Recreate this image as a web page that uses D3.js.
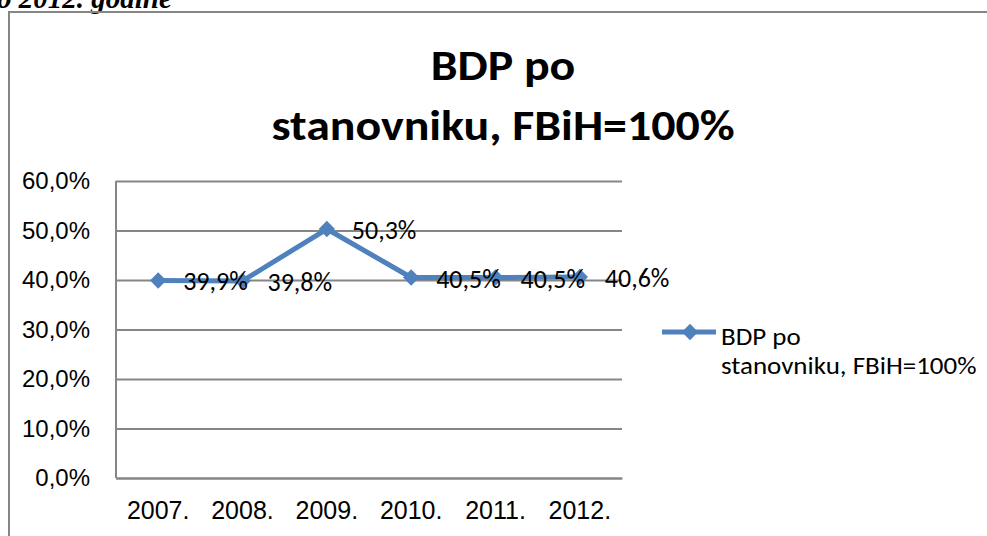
<!DOCTYPE html>
<html>
<head>
<meta charset="utf-8">
<script src="https://cdn.jsdelivr.net/npm/d3@7"></script>
<style>
  body { margin: 0; background: #fff; }
  svg { display: block; font-family: Carlito, Calibri, Lato, sans-serif; }
</style>
</head>
<body>
<svg id="chart" width="987" height="536"></svg>
<script>
// data
const years = ["2007.", "2008.", "2009.", "2010.", "2011.", "2012."];
const values = [0.399, 0.398, 0.503, 0.405, 0.405, 0.406];
const yTicks = [0, 0.1, 0.2, 0.3, 0.4, 0.5, 0.6];
const seriesName = ["BDP po", "stanovniku, FBiH=100%"];
const titleLines = ["BDP po", "stanovniku, FBiH=100%"];

const blue = "#4f81bd", grid = "#868686";
const plot = {left: 116, right: 622, top: 181, bottom: 478};

const svg = d3.select("#chart");
const fmt = d3.formatLocale({decimal: ",", thousands: ".", grouping: [3], currency: ["", ""]}).format(".1%");

// caption of the page above, cut off at the top
svg.append("text")
    .attr("x", -3)
    .attr("y", 8)
    .attr("font-family", "Liberation Serif, serif")
    .attr("font-weight", "bold")
    .attr("font-style", "italic")
    .attr("font-size", 29)
    .text("o 2012. godine");

// chart frame
svg.append("path")
    .attr("d", "M9,540V12H990")
    .attr("fill", "none")
    .attr("stroke", grid)
    .attr("stroke-width", 2);

// title (picture is stretched sideways)
svg.append("text")
    .attr("transform", "translate(503,0) scale(1.14,1)")
    .attr("text-anchor", "middle")
    .attr("font-weight", "bold")
    .attr("font-size", 42)
    .selectAll("tspan")
    .data(titleLines)
    .enter().append("tspan")
    .attr("x", 0)
    .attr("y", (d, i) => 80 + i * 60)
    .text(d => d);

const x = d3.scaleBand().domain(years).range([plot.left, plot.right]);
const y = d3.scaleLinear().domain([0, 0.6]).range([plot.bottom, plot.top]);
const cx = d => x(d) + x.bandwidth() / 2;

// y axis + gridlines
const yAxis = svg.append("g")
    .attr("transform", "translate(" + plot.left + ",0)")
    .call(d3.axisLeft(y).tickValues(yTicks).tickFormat(fmt)
        .tickSize(-(plot.right - plot.left)).tickSizeOuter(0).tickPadding(26));
yAxis.select(".domain").remove();
yAxis.selectAll("line").attr("stroke", grid).attr("stroke-width", 2);
yAxis.selectAll("text").attr("font-family", null).attr("font-size", 24).attr("fill", "#000");

// vertical axis line
svg.append("line")
    .attr("x1", plot.left).attr("x2", plot.left)
    .attr("y1", plot.top).attr("y2", plot.bottom)
    .attr("stroke", grid).attr("stroke-width", 2);

// x axis
const xAxis = svg.append("g")
    .attr("transform", "translate(0," + plot.bottom + ")")
    .call(d3.axisBottom(x).tickSize(0));
xAxis.select(".domain").attr("stroke", grid).attr("stroke-width", 2);
xAxis.selectAll("text")
    .attr("font-family", null).attr("font-size", 25).attr("fill", "#000")
    .attr("y", 41).attr("dy", null);

// series line
const line = d3.line().x((d, i) => cx(years[i])).y(d => y(d));
svg.append("path")
    .datum(values)
    .attr("d", line)
    .attr("fill", "none")
    .attr("stroke", blue)
    .attr("stroke-width", 5)
    .attr("stroke-linejoin", "round");

const diamond = d3.symbol().type(d3.symbolDiamond2).size(170);
svg.selectAll(".pt")
    .data(values)
    .enter().append("path")
    .attr("class", "pt")
    .attr("transform", (d, i) => "translate(" + cx(years[i]) + "," + y(d) + ")")
    .attr("d", diamond)
    .attr("fill", blue);

// data labels
svg.selectAll(".lbl")
    .data(values)
    .enter().append("text")
    .attr("class", "lbl")
    .attr("x", (d, i) => cx(years[i]) + 25)
    .attr("y", d => y(d) + 10)
    .attr("font-size", 26)
    .text(d => fmt(d));

// legend
const lg = svg.append("g").attr("transform", "translate(662,332)");
lg.append("line").attr("x1", 0).attr("x2", 54)
    .attr("stroke", blue).attr("stroke-width", 5);
lg.append("path").attr("transform", "translate(28,0)").attr("d", diamond).attr("fill", blue);
lg.append("text")
    .attr("transform", "translate(59,0) scale(1.08,1)")
    .attr("font-size", 25)
    .selectAll("tspan")
    .data(seriesName)
    .enter().append("tspan")
    .attr("x", 0)
    .attr("y", (d, i) => 13 + i * 29)
    .text(d => d);
</script>
</body>
</html>
